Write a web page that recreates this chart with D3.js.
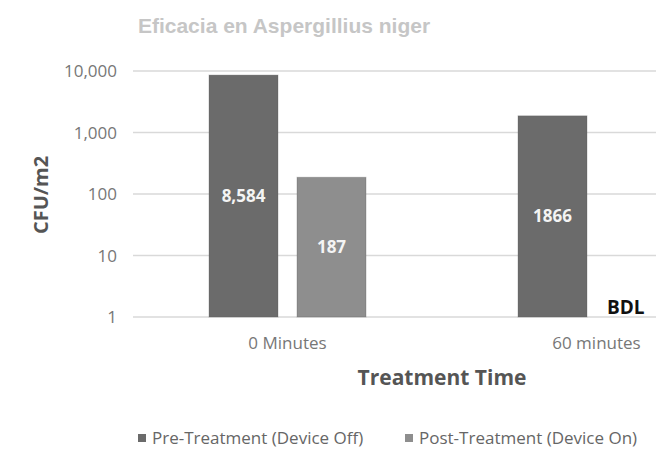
<!DOCTYPE html>
<html>
<head>
<meta charset="utf-8">
<script src="https://cdn.jsdelivr.net/npm/d3@7"></script>
<style>
  body { margin: 0; background: #fff; }
  svg { display: block; font-family: "Open Sans", Lato, sans-serif; }
</style>
</head>
<body>
<svg id="chart"></svg>
<script>
// data
var categories = ["0 Minutes", "60 minutes"];
var series = ["Pre-Treatment (Device Off)", "Post-Treatment (Device On)"];
var preValues = [8584, 1866];
var postValues = [187, null];      // null = below detection limit
var preLabels = ["8,584", "1866"];
var postLabels = ["187", "BDL"];
var yTicks = [1, 10, 100, 1000, 10000];
var colors = ["#6b6b6b", "#8e8e8e"];

var width = 670, height = 449;
var svg = d3.select("#chart").attr("width", width).attr("height", height);

// scales
var y = d3.scaleLog().domain([1, 10000]).range([317, 71]);
var x0 = d3.scaleBand().domain(categories).range([133, 751]);
var x1 = d3.scaleBand().domain(series).range([76, 233]).paddingInner(0.216);

// gridlines
svg.append("g").selectAll("line")
    .data(yTicks)
  .enter().append("line")
    .attr("x1", 133).attr("x2", 656)
    .attr("y1", function(d) { return y(d); })
    .attr("y2", function(d) { return y(d); })
    .attr("stroke", "#d9d9d9")
    .attr("stroke-width", 1.5);

// y tick labels
svg.append("g").selectAll("text")
    .data(yTicks)
  .enter().append("text")
    .attr("x", 117)
    .attr("y", function(d) { return y(d) + 6; })
    .attr("text-anchor", "end")
    .attr("font-size", 17)
    .attr("fill", "#777")
    .text(d3.format(","));

// bars
var rows = categories.map(function(c, i) {
  return [
    {cat: c, s: series[0], v: preValues[i], label: preLabels[i], color: colors[0]},
    {cat: c, s: series[1], v: postValues[i], label: postLabels[i], color: colors[1]}
  ];
});

var groups = svg.selectAll(".grp")
    .data(rows)
  .enter().append("g")
    .attr("class", "grp")
    .attr("transform", function(d) { return "translate(" + x0(d[0].cat) + ",0)"; });

groups.selectAll("rect")
    .data(function(d) { return d.filter(function(b) { return b.v != null; }); })
  .enter().append("rect")
    .attr("x", function(d) { return x1(d.s); })
    .attr("y", function(d) { return y(d.v); })
    .attr("width", x1.bandwidth())
    .attr("height", function(d) { return y(1) - y(d.v); })
    .attr("fill", function(d) { return d.color; })
    .attr("stroke", "#5a5a5a")
    .attr("stroke-opacity", 0.3);

// value labels inside bars
groups.selectAll(".val")
    .data(function(d) { return d.filter(function(b) { return b.v != null; }); })
  .enter().append("text")
    .attr("class", "val")
    .attr("x", function(d) { return x1(d.s) + x1.bandwidth() / 2; })
    .attr("y", function(d) { return (y(d.v) + y(1)) / 2 + 6; })
    .attr("text-anchor", "middle")
    .attr("font-size", 17)
    .attr("font-weight", "bold")
    .attr("fill", "#f4f4f4")
    .text(function(d) { return d.label; });

// BDL label
groups.selectAll(".bdl")
    .data(function(d) { return d.filter(function(b) { return b.v == null; }); })
  .enter().append("text")
    .attr("class", "bdl")
    .attr("x", function(d) { return x1(d.s) + 1; })
    .attr("y", y(1) - 3)
    .attr("font-size", 19)
    .attr("font-weight", "bold")
    .attr("fill", "#111")
    .text(function(d) { return d.label; });

// category labels
svg.append("g").selectAll("text")
    .data(categories)
  .enter().append("text")
    .attr("x", function(d) { return x0(d) + x0.bandwidth() / 2; })
    .attr("y", 349)
    .attr("text-anchor", "middle")
    .attr("font-size", 17)
    .attr("fill", "#777")
    .text(function(d) { return d; });

// title
svg.append("text")
    .attr("x", 284).attr("y", 33)
    .attr("text-anchor", "middle")
    .attr("font-family", "'Liberation Sans', Arial, sans-serif")
    .attr("font-size", 21)
    .attr("font-weight", "bold")
    .attr("fill", "#c6c6c6")
    .text("Eficacia en Aspergillius niger");

// axis titles
svg.append("text")
    .attr("transform", "translate(48,195) rotate(-90)")
    .attr("text-anchor", "middle")
    .attr("font-size", 20)
    .attr("font-weight", "bold")
    .attr("fill", "#555")
    .text("CFU/m2");

svg.append("text")
    .attr("x", (x0.range()[0] + x0.range()[1]) / 2)
    .attr("y", 385)
    .attr("text-anchor", "middle")
    .attr("font-size", 21)
    .attr("font-weight", "bold")
    .attr("fill", "#555")
    .text("Treatment Time");

// legend
var legendX = [138, 405];
var legend = svg.selectAll(".leg")
    .data(series)
  .enter().append("g")
    .attr("class", "leg")
    .attr("transform", function(d, i) { return "translate(" + legendX[i] + ",438)"; });
legend.append("rect")
    .attr("x", 0).attr("y", -4)
    .attr("width", 8).attr("height", 8)
    .attr("fill", function(d, i) { return colors[i]; });
legend.append("text")
    .attr("x", 14).attr("y", 6)
    .attr("font-size", 17)
    .attr("fill", "#666")
    .text(function(d) { return d; });
</script>
</body>
</html>
